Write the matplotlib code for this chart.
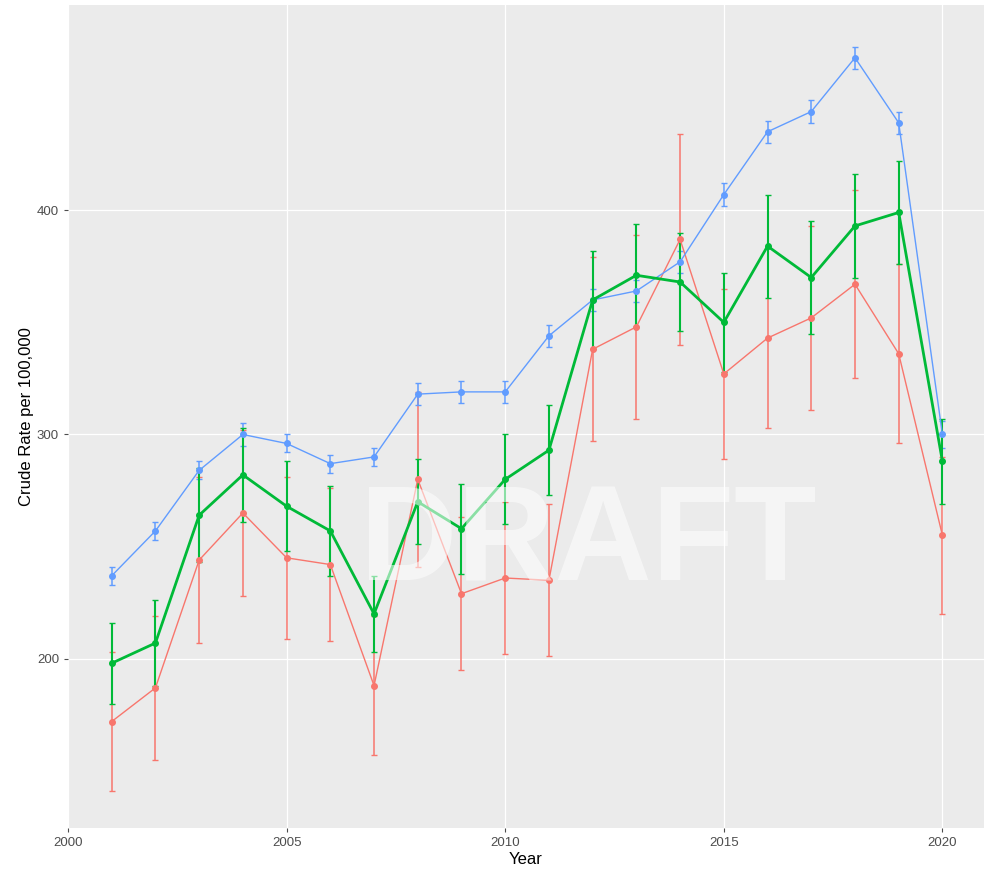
import matplotlib
matplotlib.use("Agg")
import matplotlib.pyplot as plt

plt.rcParams['font.family'] = ['Liberation Sans', 'DejaVu Sans']

years = list(range(2001, 2021))

# three series (crude rate per 100,000) with their error half-widths
red_rate = [172, 187, 244, 265, 245, 242, 188, 280, 229, 236,
            235, 338, 348, 387, 327, 343, 352, 367, 336, 255]
red_err = [31, 32, 37, 37, 36, 34, 31, 39, 34, 34,
           34, 41, 41, 47, 38, 40, 41, 42, 40, 35]

green_rate = [198, 207, 264, 282, 268, 257, 220, 270, 258, 280,
              293, 360, 371, 368, 350, 384, 370, 393, 399, 288]
green_err = [18, 19, 21, 21, 20, 20, 17, 19, 20, 20,
             20, 22, 23, 22, 22, 23, 25, 23, 23, 19]

blue_rate = [237, 257, 284, 300, 296, 287, 290, 318, 319, 319,
             344, 360, 364, 377, 407, 435, 444, 468, 439, 300]
blue_err = [4, 4, 4, 5, 4, 4, 4, 5, 5, 5,
            5, 5, 5, 5, 5, 5, 5, 5, 5, 6]

x_ticks = [2000, 2005, 2010, 2015, 2020]
y_ticks = [200, 300, 400]

fig = plt.figure(figsize=(9.94, 8.73), dpi=100)
ax = fig.add_axes([0.0684, 0.0515, 0.9215, 0.9427])
ax.set_facecolor('#EBEBEB')

series = [
    (red_rate, red_err, '#F8766D', 1.0),
    (blue_rate, blue_err, '#619CFF', 1.0),
    (green_rate, green_err, '#00BA38', 2.0),
]
for rate, err, col, lw in series:
    ax.errorbar(years, rate, yerr=err, color=col, ecolor=col, lw=lw,
                elinewidth=1.5 if lw > 1 else 1.1, capsize=2, capthick=1,
                marker='o', ms=4, zorder=3)

ax.set_xlim(2000.05, 2020.95)
ax.set_ylim(124.5, 491.5)
ax.set_xticks(x_ticks)
ax.set_yticks(y_ticks)
ax.grid(True, color='white', lw=0.9)
ax.set_axisbelow(True)
for s in ax.spines.values():
    s.set_visible(False)
ax.tick_params(colors='#4D4D4D', labelsize=9.5, length=3, width=0.8)

ax.set_xlabel('Year', fontsize=12, labelpad=2)
ax.set_ylabel('Crude Rate per 100,000', fontsize=12, labelpad=2)

# watermark
ax.text(0.568, 0.343, 'DRAFT', transform=ax.transAxes, ha='center', va='center',
        fontsize=97, fontweight='bold', color='white', alpha=0.55, zorder=5)

fig.savefig('out.png', dpi=100)
